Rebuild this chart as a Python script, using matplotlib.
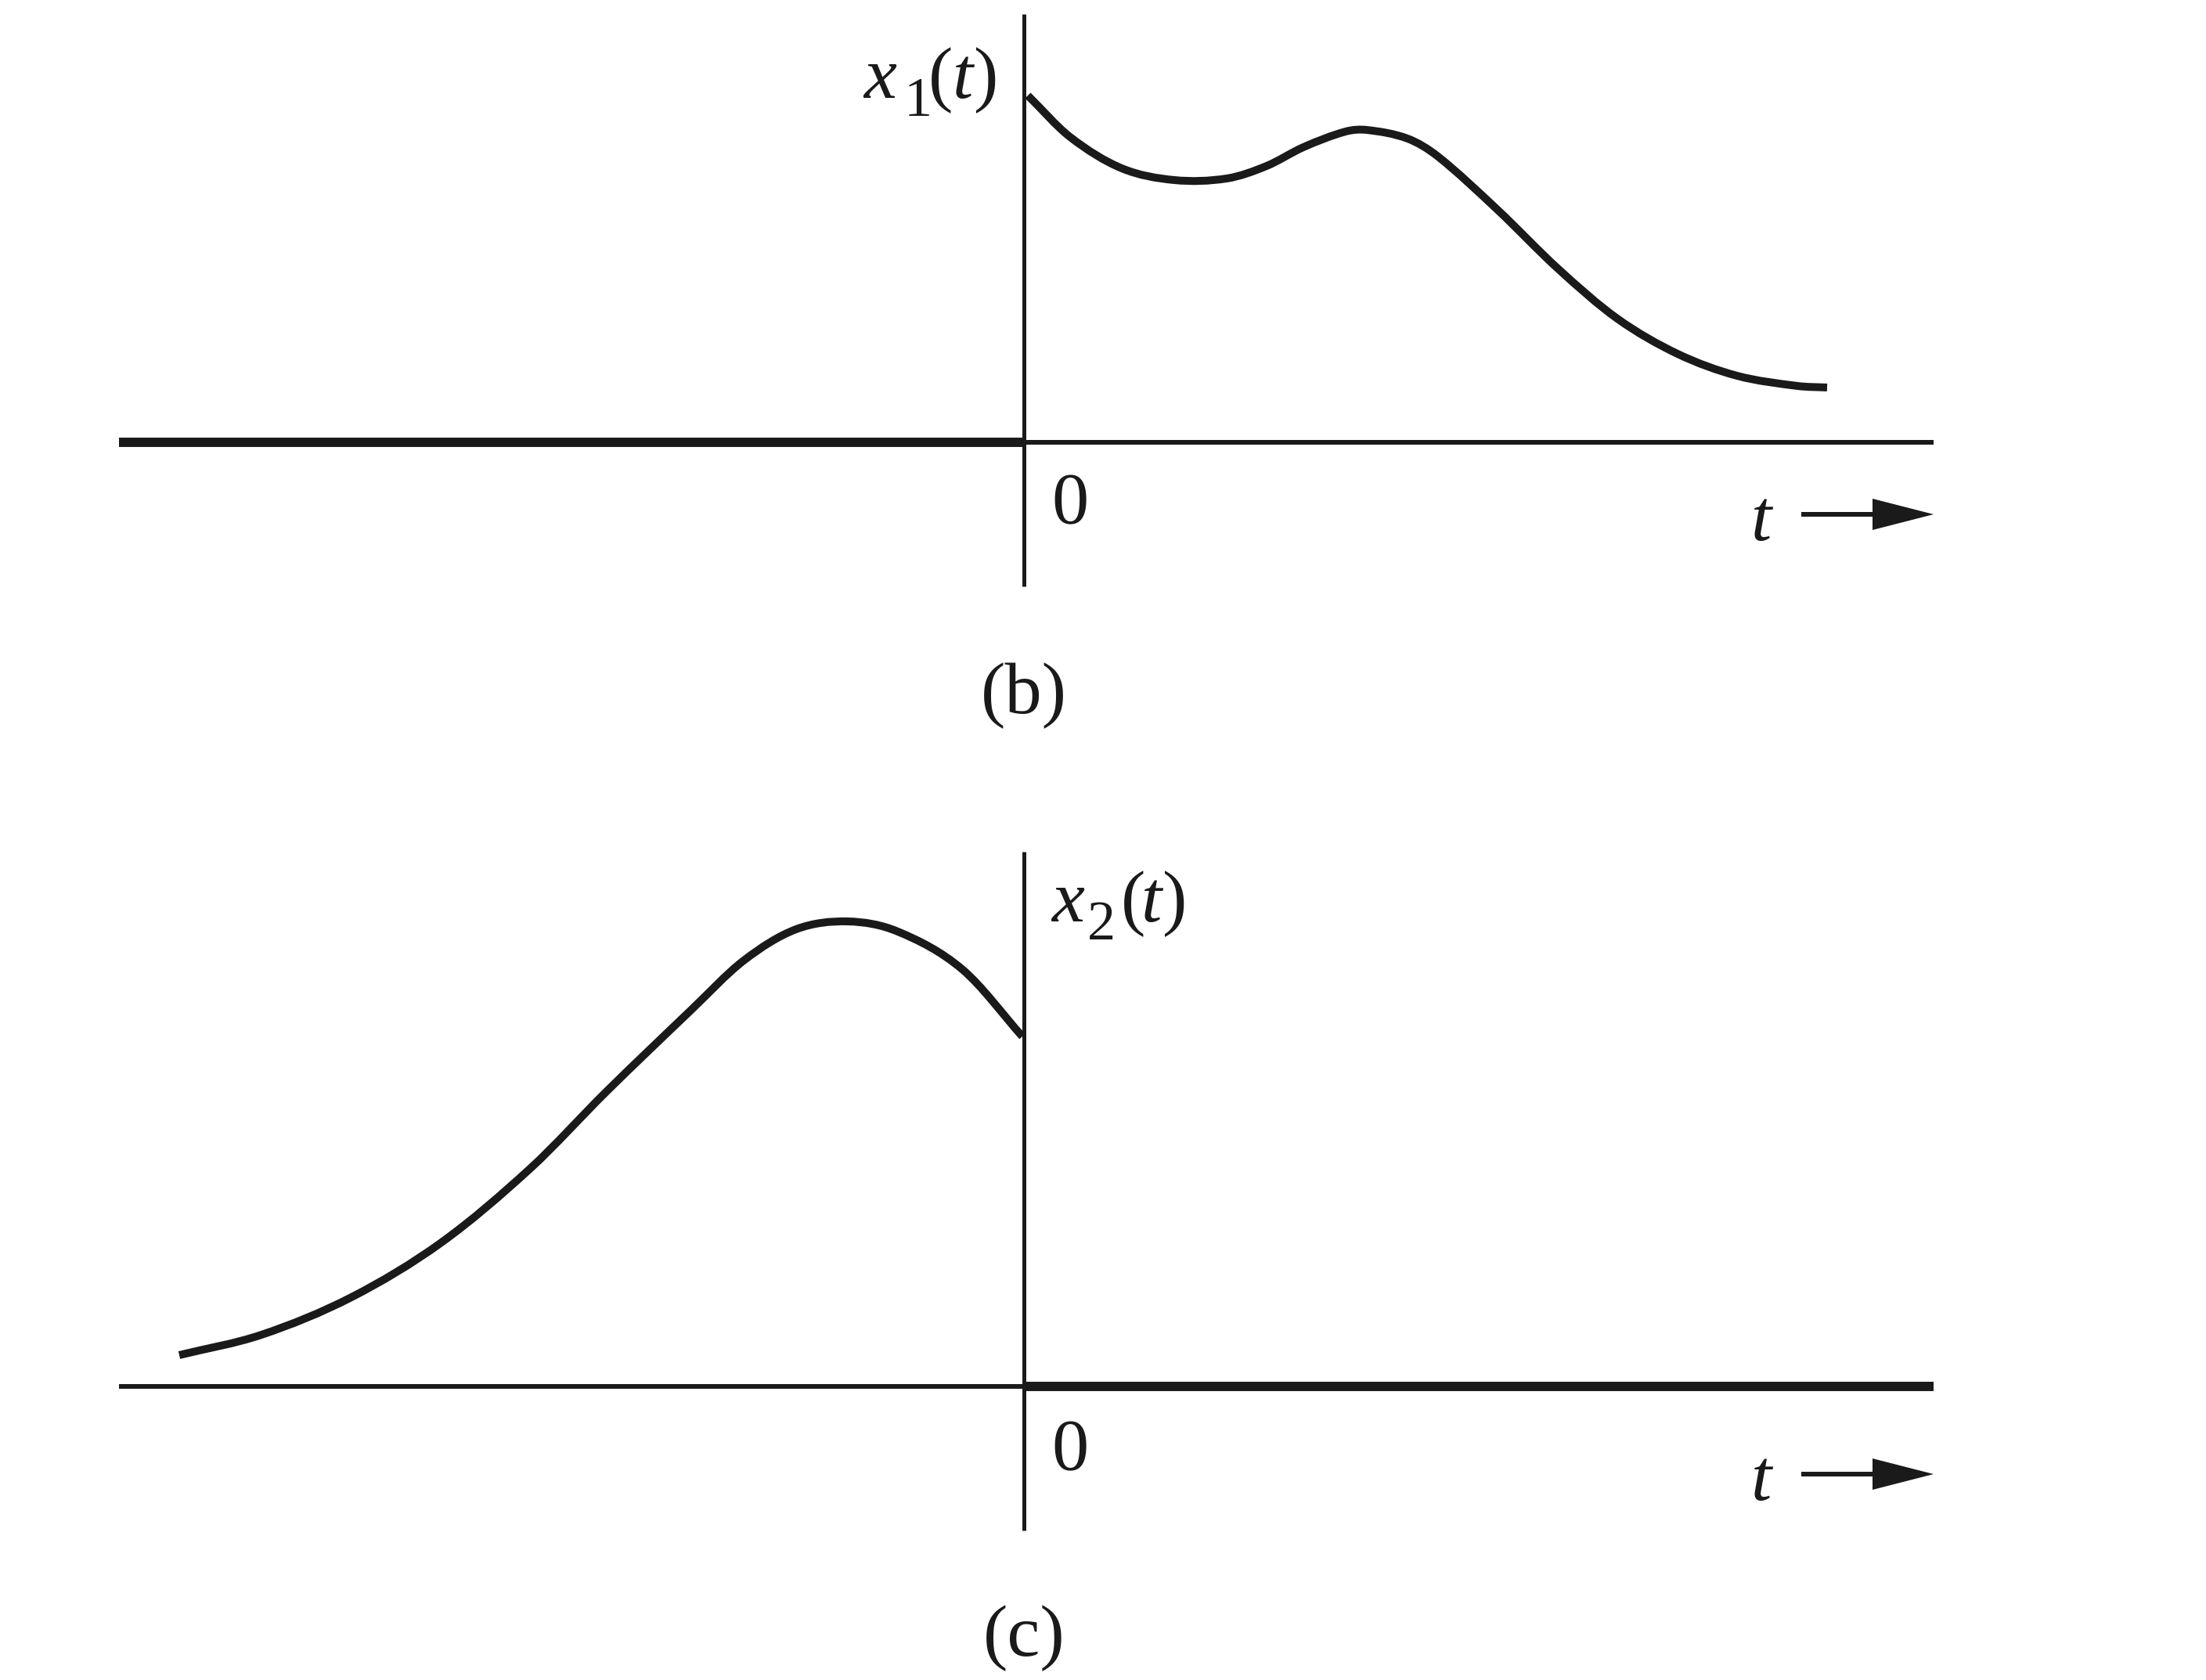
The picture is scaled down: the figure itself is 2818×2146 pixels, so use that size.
import matplotlib
matplotlib.use('Agg')
import matplotlib.pyplot as plt
from matplotlib.path import Path
from matplotlib.patches import PathPatch

plt.rcParams['font.family'] = ['Liberation Serif', 'DejaVu Serif']

INK = '#1a1a1a'

# panel (b): x1(t), zero for t < 0
t_b = [0.05, 0.59, 1.25, 1.92, 2.59, 3.10, 3.57, 4.11, 4.38, 4.90, 5.29, 6.05,
       6.82, 7.58, 8.35, 9.11, 9.88, 10.26]
x_b = [4.43, 3.90, 3.50, 3.35, 3.37, 3.53, 3.77, 3.97, 3.99, 3.88, 3.65, 2.97,
       2.22, 1.58, 1.13, 0.85, 0.72, 0.70]

# panel (c): x2(t), zero for t > 0
t_c = [-10.79, -9.74, -8.59, -7.44, -6.30, -5.34, -4.25, -3.58, -2.91, -2.25,
       -1.61, -0.79, -0.02]
x_c = [0.40, 0.66, 1.14, 1.84, 2.79, 3.76, 4.81, 5.44, 5.84, 5.94,
       5.81, 5.33, 4.47]

T_LEFT, T_RIGHT = -11.56, 11.62


def smooth_path(t, x):
    # cubic hermite through the read points, drawn as bezier segments
    n = len(t)
    slopes = []
    for i in range(n):
        lo, hi = max(i - 1, 0), min(i + 1, n - 1)
        slopes.append((x[hi] - x[lo]) / (t[hi] - t[lo]))
    verts = [(t[0], x[0])]
    codes = [Path.MOVETO]
    for i in range(n - 1):
        h = (t[i + 1] - t[i]) / 3.0
        verts += [(t[i] + h, x[i] + slopes[i] * h),
                  (t[i + 1] - h, x[i + 1] - slopes[i + 1] * h),
                  (t[i + 1], x[i + 1])]
        codes += [Path.CURVE4] * 3
    return Path(verts, codes)


def draw_label(ax, sub, left, base, sub_base):
    # left edges of the pieces of x_n(t)
    ax.text(left[0], base, 'x', fontsize=68, fontstyle='italic', ha='left', va='baseline', color=INK)
    ax.text(left[1], sub_base, sub, fontsize=52, ha='left', va='baseline', color=INK)
    ax.text(left[2], base, '(', fontsize=68, ha='left', va='baseline', color=INK)
    ax.text(left[3], base, 't', fontsize=68, fontstyle='italic', ha='left', va='baseline', color=INK)
    ax.text(left[4], base, ')', fontsize=68, ha='left', va='baseline', color=INK)


def draw_panel(ax, t, x, label, zero_left, axis_top, arrow_y, t_lab_y, zero_y, cap_y):
    ax.set_xlim(-13.08, 15.10)
    ax.axis('off')
    thick, thin = 8.6, 4.3
    lw_left, lw_right = (thick, thin) if zero_left else (thin, thick)
    ax.plot([T_LEFT, 0], [0, 0], color=INK, lw=lw_left, solid_capstyle='butt')
    ax.plot([0, T_RIGHT], [0, 0], color=INK, lw=lw_right, solid_capstyle='butt')
    ax.plot([0, 0], [-1.84, axis_top], color=INK, lw=3.6, solid_capstyle='butt')
    ax.add_patch(PathPatch(smooth_path(t, x), facecolor='none', edgecolor=INK,
                           lw=7.2, capstyle='butt', joinstyle='round'))

    ax.arrow(9.93, arrow_y, T_RIGHT - 9.93, 0, width=0.06, head_width=0.40,
             head_length=0.78, length_includes_head=True, color=INK, lw=0)
    ax.text(9.42, t_lab_y, 't', fontsize=68, fontstyle='italic', ha='center', va='baseline', color=INK)
    ax.text(0.59, zero_y, '0', fontsize=68, ha='center', va='baseline', color=INK)
    ax.text(0, cap_y, label, fontsize=68, ha='center', va='baseline', color=INK)


fig = plt.figure(figsize=(28.18, 21.46), dpi=100)

ax_b = fig.add_axes([0, 0.5, 1, 0.5])
ax_b.set_ylim(-5.08, 5.65)
draw_panel(ax_b, t_b, x_b, '(b)', True, 5.47, -0.92, -1.25, -1.03, -3.46)
draw_label(ax_b, '1', [-2.05, -1.53, -1.22, -0.91, -0.64], 4.40, 4.17)

ax_c = fig.add_axes([0, 0, 1, 0.5])
ax_c.set_ylim(-3.75, 6.98)
draw_panel(ax_c, t_c, x_c, '(c)', False, 6.83, -1.12, -1.45, -1.06, -3.44)
draw_label(ax_c, '2', [0.35, 0.81, 1.24, 1.50, 1.77], 5.94, 5.71)

fig.savefig('out.png', dpi=100, facecolor='white')
